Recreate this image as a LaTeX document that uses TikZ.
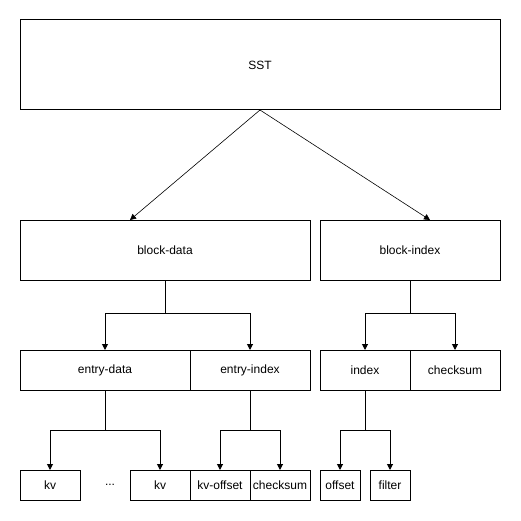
\documentclass[tikz,border=0pt]{standalone}
\usepackage{fontspec}
\setmainfont{Liberation Sans}
\usetikzlibrary{arrows.meta}
\begin{document}
\begin{tikzpicture}[x=1pt,y=-1pt,
  box/.style={draw,line width=1pt,inner sep=0pt,outer sep=0pt,font=\fontsize{12}{14}\selectfont},
  arr/.style={line width=1pt,-{Triangle[length=6pt,width=6pt]}},
  thin arr/.style={line width=0.6pt,-{Triangle[length=6pt,width=6pt]}}]
\useasboundingbox (0,0) rectangle (521,521);
\fill[white] (0,0) rectangle (521,521);
\node[box,minimum width=480pt,minimum height=90pt] (sst) at (260,65) {SST};
\node[box,minimum width=290pt,minimum height=60pt] (bd) at (165,250) {block-data};
\node[box,minimum width=180pt,minimum height=60pt] (bi) at (410,250) {block-index};
\node[box,minimum width=170pt,minimum height=40pt] (ed) at (105,370) {entry-data};
\node[box,minimum width=120pt,minimum height=40pt] (ei) at (250,370) {entry-index};
\node[box,minimum width=90pt,minimum height=40pt] (ix) at (365,370) {index};
\node[box,minimum width=90pt,minimum height=40pt] (cs) at (455,370) {checksum};
\node[box,minimum width=60pt,minimum height=30pt] (kva) at (50,485) {kv};
\node[font=\fontsize{12}{14}\selectfont] (dots) at (110,485) {...};
\node[box,minimum width=60pt,minimum height=30pt] (kvb) at (160,485) {kv};
\node[box,minimum width=60pt,minimum height=30pt] (kvo) at (220,485) {kv-offset};
\node[box,minimum width=60pt,minimum height=30pt] (cs2) at (280,485) {checksum};
\node[box,minimum width=40pt,minimum height=30pt] (off) at (340,485) {offset};
\node[box,minimum width=40pt,minimum height=30pt] (fil) at (390,485) {filter};
\draw[thin arr] (sst.south) -- ([xshift=110pt]bd.north west);
\draw[thin arr] (sst.south) -- ([xshift=110pt]bi.north west);
\draw[arr] (bd.south) -- ++(0,33) -| (ed.north);
\draw[arr] (bd.south) -- ++(0,33) -| (ei.north);
\draw[arr] (bi.south) -- ++(0,33) -| (ix.north);
\draw[arr] (bi.south) -- ++(0,33) -| (cs.north);
\draw[arr] (ed.south) -- ++(0,40) -| (kva.north);
\draw[arr] (ed.south) -- ++(0,40) -| (kvb.north);
\draw[arr] (ei.south) -- ++(0,40) -| (kvo.north);
\draw[arr] (ei.south) -- ++(0,40) -| (cs2.north);
\draw[arr] (ix.south) -- ++(0,40) -| (off.north);
\draw[arr] (ix.south) -- ++(0,40) -| (fil.north);
\end{tikzpicture}
\end{document}
